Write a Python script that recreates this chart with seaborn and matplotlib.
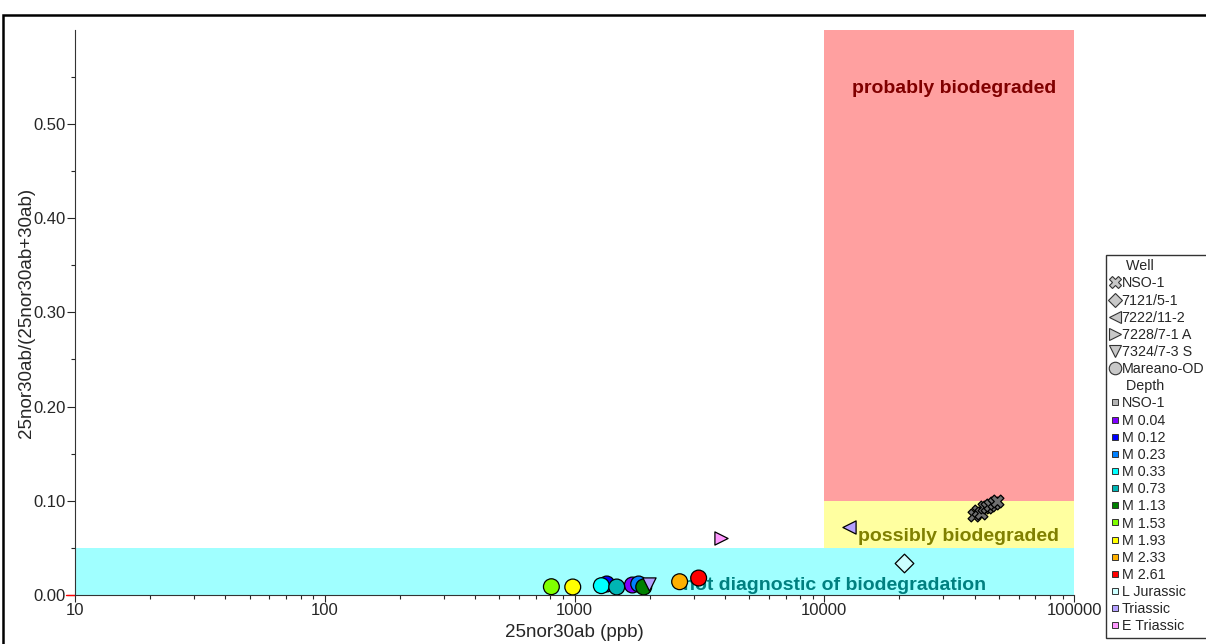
import pandas as pd
import seaborn as sns
import matplotlib.pyplot as plt
from matplotlib.lines import Line2D
from matplotlib.patches import Rectangle
from matplotlib.ticker import MultipleLocator, FormatStrFormatter, LogLocator, NullFormatter

# Data
nso_x = [39940, 41440, 42600, 43790, 45020, 46280, 48030, 49370]
nso_y = [0.085, 0.089, 0.087, 0.093, 0.093, 0.096, 0.098, 0.100]

mareano_depth = ['M 0.04', 'M 0.12', 'M 0.23', 'M 0.33', 'M 0.73', 'M 1.13',
                 'M 1.53', 'M 1.93', 'M 2.33', 'M 2.61']
mareano_x = [1705, 1346, 1807, 1281, 1476, 1893, 808, 984, 2636, 3141]
mareano_y = [0.0106, 0.0117, 0.0117, 0.0099, 0.0085, 0.0085, 0.0088, 0.0085, 0.0141, 0.018]

other_wells = ['7121/5-1', '7222/11-2', '7228/7-1 A', '7324/7-3 S']
other_x = [20950, 12620, 3846, 1983]
other_y = [0.034, 0.072, 0.0606, 0.0117]
other_depth = ['L Jurassic', 'Triassic', 'E Triassic', 'Triassic']

well_labels = ['NSO-1', '7121/5-1', '7222/11-2', '7228/7-1 A', '7324/7-3 S', 'Mareano-OD']
well_markers = ['X', 'D', '<', '>', 'v', 'o']

depth_labels = ['NSO-1', 'M 0.04', 'M 0.12', 'M 0.23', 'M 0.33', 'M 0.73', 'M 1.13',
                'M 1.53', 'M 1.93', 'M 2.33', 'M 2.61', 'L Jurassic', 'Triassic', 'E Triassic']
depth_colors = ['#b4b4b4', '#8000ff', '#0000ff', '#0080ff', '#00ffff', '#00b4b4', '#008000',
                '#80ff00', '#ffff00', '#ffb000', '#ff0000', '#ccffff', '#b4a0ff', '#ff99ff']
palette = dict(zip(depth_labels, depth_colors))

sns.set_style("ticks")
plt.rcParams['font.family'] = ['Liberation Sans', 'DejaVu Sans']

fig = plt.figure(figsize=(12.06, 6.44), dpi=100)
ax = fig.add_axes([75 / 1206, 1 - 595 / 644, 999 / 1206, 565 / 644])

# outer frame
fig.patches.append(Rectangle((3 / 1206, -0.1), 1.2, 1.1 - 15 / 644, transform=fig.transFigure,
                             fill=False, edgecolor='black', linewidth=1.8))

# zones
ax.add_patch(Rectangle((10, 0), 100000 - 10, 0.05, color='#a0ffff', zorder=0, linewidth=0))
ax.add_patch(Rectangle((10000, 0.05), 90000, 0.05, color='#ffffa0', zorder=0, linewidth=0))
ax.add_patch(Rectangle((10000, 0.10), 90000, 0.50, color='#ffa0a0', zorder=0, linewidth=0))

ax.text(33200, 0.537, 'probably biodegraded', color='#800000', fontsize=14,
        fontweight='bold', ha='center', va='center')
ax.text(34400, 0.0617, 'possibly biodegraded', color='#808000', fontsize=14,
        fontweight='bold', ha='center', va='center')
ax.text(11000, 0.0106, 'not diagnostic of biodegradation', color='#008080', fontsize=14,
        fontweight='bold', ha='center', va='center')

# points
mareano = pd.DataFrame({'x': mareano_x, 'y': mareano_y, 'depth': mareano_depth})
sns.scatterplot(data=mareano, x='x', y='y', hue='depth', palette=palette, marker='o',
                s=130, edgecolor='black', linewidth=0.9, legend=False, ax=ax, zorder=3)

for w, xx, yy, d in zip(other_wells, other_x, other_y, other_depth):
    m = well_markers[well_labels.index(w)]
    sns.scatterplot(x=[xx], y=[yy], marker=m, color=palette[d], s=90,
                    edgecolor='black', linewidth=0.9, ax=ax, zorder=3)

sns.scatterplot(x=nso_x, y=nso_y, marker='X', color='#707070', s=85,
                edgecolor='black', linewidth=0.9, ax=ax, zorder=3)

ax.set_xscale('log')
ax.set_xlim(10, 100000)
ax.set_ylim(0, 0.5995)
ax.yaxis.set_major_locator(MultipleLocator(0.1))
ax.yaxis.set_minor_locator(MultipleLocator(0.05))
ax.yaxis.set_major_formatter(FormatStrFormatter('%.2f'))
ax.xaxis.set_minor_locator(LogLocator(base=10, subs=range(2, 10)))
ax.xaxis.set_minor_formatter(NullFormatter())
ax.set_xticks([10, 100, 1000, 10000, 100000])
ax.set_xticklabels(['10', '100', '1000', '10000', '100000'])
ax.tick_params(axis='y', which='major', labelsize=12, length=6, width=0.8, direction='out', pad=1)
ax.tick_params(axis='x', which='major', labelsize=12, length=5, width=0.8, direction='out', pad=1)
ax.tick_params(axis='both', which='minor', length=3, width=0.8, direction='out')
ax.set_xlabel('25nor30ab (ppb)', fontsize=13.5)
ax.set_ylabel('25nor30ab/(25nor30ab+30ab)', fontsize=13.5)
ax.xaxis.set_label_coords(0.5, -0.0655)
ax.xaxis.label.set_va('center')
ax.yaxis.set_label_coords(-0.049, 0.5)
ax.yaxis.label.set_va('center')
sns.despine(ax=ax)
for sp in ['left', 'bottom']:
    ax.spines[sp].set_linewidth(0.8)
    ax.spines[sp].set_color('#333333')

# small red mark at the origin
ax.plot([-0.009, 0], [0, 0], color='red', linewidth=1, transform=ax.transAxes, clip_on=False)

# legend
blank = Line2D([], [], linestyle='none')
handles = [blank]
labels = [' Well']
for lab, mk in zip(well_labels, well_markers):
    handles.append(Line2D([], [], linestyle='none', marker=mk, markersize=9 if mk != 'D' else 7,
                          markerfacecolor='#c8c8c8', markeredgecolor='#333333', markeredgewidth=0.8))
    labels.append(lab)
handles.append(blank)
labels.append(' Depth')
for lab, col in zip(depth_labels, depth_colors):
    handles.append(Line2D([], [], linestyle='none', marker='s', markersize=5,
                          markerfacecolor=col, markeredgecolor='#333333', markeredgewidth=0.7))
    labels.append(lab)

leg = fig.legend(handles, labels, loc='upper left', bbox_to_anchor=(1106 / 1206, 1 - 255 / 644),
                 fontsize=10.3, frameon=True, fancybox=False, edgecolor='black',
                 handlelength=0.7, handletextpad=0.1, borderpad=0.3, labelspacing=0.22,
                 borderaxespad=0)
leg.get_frame().set_linewidth(1)

fig.savefig('out.png', dpi=100)
